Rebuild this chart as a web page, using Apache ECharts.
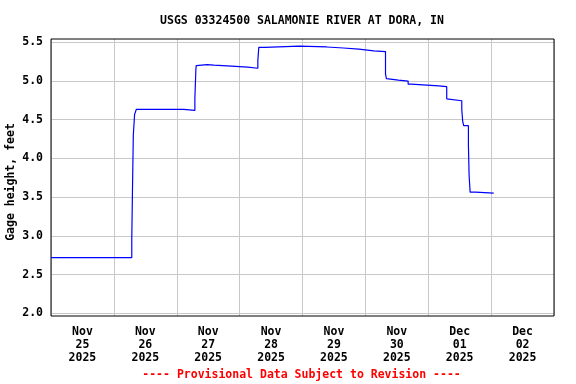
<!DOCTYPE html>
<html><head><meta charset="utf-8">
<script src="https://cdn.jsdelivr.net/npm/echarts@6/dist/echarts.min.js"></script>
<style>html,body{margin:0;padding:0;background:#fff}#c{width:576px;height:384px}</style>
</head><body><div id="c"></div>
<script>
const chartTitle = 'USGS 03324500 SALAMONIE RIVER AT DORA, IN';
const yAxisTitle = 'Gage height, feet';
const footnote = '---- Provisional Data Subject to Revision ----';

// observation change times and gage heights (value holds until next time)
const times = [
  '2025-11-25 00:00', '2025-11-26 06:50', '2025-11-26 07:05', '2025-11-26 07:25',
  '2025-11-26 07:55', '2025-11-26 08:35', '2025-11-27 02:40', '2025-11-27 06:55',
  '2025-11-27 07:18', '2025-11-27 07:26', '2025-11-27 08:02', '2025-11-27 11:38',
  '2025-11-27 14:10', '2025-11-27 19:16', '2025-11-28 03:07', '2025-11-28 06:57',
  '2025-11-28 07:19', '2025-11-28 09:30', '2025-11-28 22:51', '2025-11-29 09:16',
  '2025-11-29 15:39', '2025-11-29 21:29', '2025-11-30 03:13', '2025-11-30 07:41',
  '2025-11-30 08:02', '2025-11-30 08:41', '2025-11-30 12:37', '2025-11-30 16:19',
  '2025-11-30 17:28', '2025-12-01 04:00', '2025-12-01 07:03', '2025-12-01 07:42',
  '2025-12-01 12:48', '2025-12-01 13:09', '2025-12-01 13:32', '2025-12-01 15:20',
  '2025-12-01 15:36', '2025-12-01 15:59', '2025-12-01 18:00', '2025-12-02 00:59'
];
const heights = [
  2.72, 2.96, 3.55, 4.30,
  4.57, 4.635, 4.62, 4.77,
  5.15, 5.20, 5.213, 5.205,
  5.195, 5.18, 5.165, 5.26,
  5.435, 5.45, 5.44, 5.427,
  5.413, 5.39, 5.38, 5.09,
  5.03, 5.012, 5.00, 4.96,
  4.937, 4.927, 4.77, 4.745,
  4.63, 4.48, 4.423, 4.17,
  3.78, 3.565, 3.552, 3.552
];

const xTickLabels = ['Nov\n25\n2025', 'Nov\n26\n2025', 'Nov\n27\n2025', 'Nov\n28\n2025',
                     'Nov\n29\n2025', 'Nov\n30\n2025', 'Dec\n01\n2025', 'Dec\n02\n2025'];
const yTickValues = [2.0, 2.5, 3.0, 3.5, 4.0, 4.5, 5.0, 5.5];

const startTime = '2025-11-25 00:00';
const DAY = 86400000;
function parseTime(s) {
  const m = s.match(/(\d+)-(\d+)-(\d+) (\d+):(\d+)/);
  return Date.UTC(+m[1], +m[2] - 1, +m[3], +m[4], +m[5]);
}
const t0 = parseTime(startTime);
// x in days since start of Nov 25
const dayOffset = s => (parseTime(s) - t0) / DAY;
const labelPositions = xTickLabels.map((_, i) => i + 0.5);

const FONT = '"DejaVu Sans Mono", "Liberation Mono", monospace';
const chart = echarts.init(document.getElementById('c'), null, {renderer: 'canvas'});
chart.setOption({
  animation: false,
  backgroundColor: '#ffffff',
  grid: {left: 51, top: 39, width: 503, height: 277, show: true, borderColor: '#000', borderWidth: 1, backgroundColor: 'transparent', z: 3},
  xAxis: {
    type: 'value', min: 0, max: 8, interval: 1,
    axisLine: {show: false},
    axisTick: {show: false},
    splitLine: {show: true, lineStyle: {color: '#c8c8c8', width: 1}},
    axisLabel: {
      customValues: labelPositions, margin: 10, lineHeight: 13,
      color: '#000', fontFamily: FONT, fontWeight: 'bold', fontSize: 11.5,
      formatter: function (v) {
        return xTickLabels[Math.floor(v)] || '';
      }
    }
  },
  yAxis: {
    type: 'value', min: 1.965, max: 5.543,
    axisLine: {show: false},
    axisTick: {show: false, customValues: yTickValues},
    splitLine: {show: true, lineStyle: {color: '#c8c8c8', width: 1}},
    axisLabel: {
      customValues: yTickValues, margin: 8,
      color: '#000', fontFamily: FONT, fontWeight: 'bold', fontSize: 11.5,
      formatter: function (v) { return (+v).toFixed(1); }
    }
  },
  series: [{
    type: 'line', step: 'end', showSymbol: false, symbol: 'none',
    lineStyle: {color: '#0000ff', width: 1.2},
    data: times.map((t, i) => [dayOffset(t), heights[i]])
  }],
  graphic: [
    {type: 'text', x: 302, y: 21, style: {text: chartTitle, font: 'bold 11.5px ' + FONT, fill: '#000', align: 'center', verticalAlign: 'middle'}},
    {type: 'text', x: 11, y: 182, rotation: Math.PI / 2, style: {text: yAxisTitle, font: 'bold 11.5px ' + FONT, fill: '#000', align: 'center', verticalAlign: 'middle'}},
    {type: 'text', x: 301.5, y: 375.5, style: {text: footnote, font: 'bold 11.5px ' + FONT, fill: '#ff0000', align: 'center', verticalAlign: 'middle'}}
  ]
});
</script>
</body></html>
